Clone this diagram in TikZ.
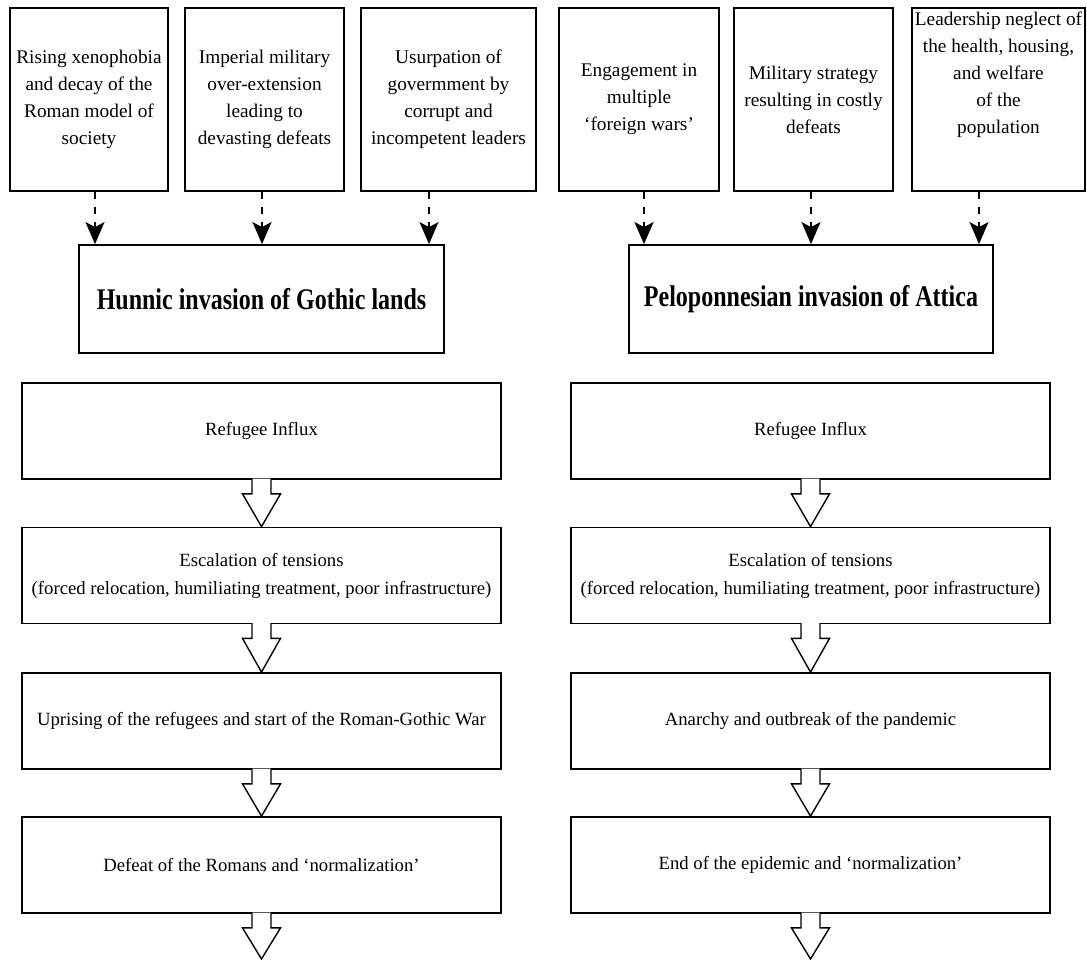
\documentclass[tikz,border=0pt]{standalone}
\usepackage{fontspec}
\setmainfont{Liberation Serif}
\usepackage{graphicx}
\usetikzlibrary{arrows.meta,calc}
\newcommand\hollowarrow[2]{%
  \filldraw[hollow] ($(#1)+(-9.5,-1.2)$) -- ($(#1)+(-9.5,14)$) -- ($(#1)+(-19,14)$) -- (#2)
    -- ($(#1)+(19,14)$) -- ($(#1)+(9.5,14)$) -- ($(#1)+(9.5,-1.2)$);}
\begin{document}
\begin{tikzpicture}[x=1pt,y=-1pt,
  topbox/.style={draw, line width=1.8pt, minimum height=183pt, inner sep=0pt, align=center,
    font=\fontsize{19.3}{27}\selectfont},
  titlebox/.style={draw, line width=1.8pt, minimum width=365pt, minimum height=108pt, inner sep=0pt,
    font=\fontsize{30}{36}\selectfont\bfseries},
  flowbox/.style={draw, line width=1.8pt, minimum width=479pt, minimum height=96pt, inner sep=0pt,
    align=center, font=\fontsize{18.7}{28}\selectfont},
  dasharrow/.style={line width=2pt, dash pattern=on 7pt off 8pt,
    -{Stealth[length=22pt,width=19pt,inset=5pt]}},
  hollow/.style={line width=1.4pt, fill=white, line join=miter}
]
\useasboundingbox (0,0) rectangle (1087,960);

% top cause boxes
\node[topbox, minimum width=158pt] (t1) at (89,99.5) {Rising xenophobia\\and decay of the\\Roman model of\\society};
\node[topbox, minimum width=159pt] (t2) at (264.5,99.5) {Imperial military\\over-extension\\leading to\\devasting defeats};
\node[topbox, minimum width=175pt] (t3) at (448.5,99.5) {Usurpation of\\govermment by\\corrupt and\\incompetent leaders};
\node[topbox, minimum width=160pt] (t4) at (639,99.5) {Engagement in\\multiple\\‘foreign wars’};
\node[topbox, minimum width=159pt] (t5) at (813.5,99.5) {Military strategy\\resulting in costly\\defeats};
\node[topbox, minimum width=173pt] (t6) at (998.5,99.5) {Leadership neglect of\\the health, housing,\\and welfare\\of the\\population\\[26pt]\mbox{}};

% title boxes
\node[titlebox] (H) at (261.5,299) {\scalebox{0.8}[1]{Hunnic invasion of Gothic lands}};
\node[titlebox, minimum width=364pt] (P) at (811,299) {\scalebox{0.8}[1]{Peloponnesian invasion of Attica}};

% dashed arrows
\draw[dasharrow] (95,0 |- t1.south) -- (95,0 |- H.north);
\draw[dasharrow] (262,0 |- t2.south) -- (262,0 |- H.north);
\draw[dasharrow] (429,0 |- t3.south) -- (429,0 |- H.north);
\draw[dasharrow] (644,0 |- t4.south) -- (644,0 |- P.north);
\draw[dasharrow] (811,0 |- t5.south) -- (811,0 |- P.north);
\draw[dasharrow] (979,0 |- t6.south) -- (979,0 |- P.north);

% left flow
\node[flowbox] (L1) at (261.5,431) {Refugee Influx};
\node[flowbox] (L2) at (261.5,575.5) {Escalation of tensions\\(forced relocation, humiliating treatment, poor infrastructure)};
\node[flowbox] (L3) at (261.5,721) {Uprising of the refugees and start of the Roman-Gothic War};
\node[flowbox] (L4) at (261.5,865) {Defeat of the Romans and ‘normalization’};
\coordinate (Lend) at (261.5,959);

% right flow
\node[flowbox] (R1) at (810.5,431) {Refugee Influx};
\node[flowbox] (R2) at (810.5,575.5) {Escalation of tensions\\(forced relocation, humiliating treatment, poor infrastructure)};
\node[flowbox] (R3) at (810.5,721) {Anarchy and outbreak of the pandemic};
\node[flowbox] (R4) at (810.5,865) {End of the epidemic and ‘normalization’};
\coordinate (Rend) at (810.5,959);

% hollow arrows
\hollowarrow{L1.south}{L2.north}
\hollowarrow{L2.south}{L3.north}
\hollowarrow{L3.south}{L4.north}
\hollowarrow{L4.south}{Lend}
\hollowarrow{R1.south}{R2.north}
\hollowarrow{R2.south}{R3.north}
\hollowarrow{R3.south}{R4.north}
\hollowarrow{R4.south}{Rend}
\end{tikzpicture}
\end{document}
